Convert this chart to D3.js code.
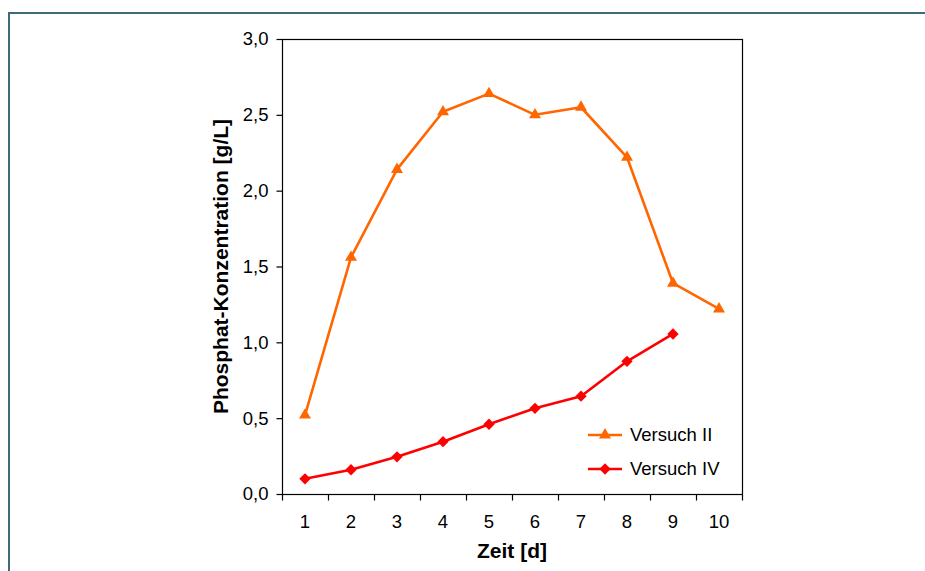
<!DOCTYPE html>
<html>
<head>
<meta charset="utf-8">
<script src="https://cdn.jsdelivr.net/npm/d3@7"></script>
<style>
  html, body { margin: 0; padding: 0; background: #fff; }
  svg { display: block; }
  text { font-family: "Liberation Sans", Arial, sans-serif; fill: #000; }
</style>
</head>
<body>
<svg id="chart" width="925" height="571"></svg>
<script>
// Days on the category axis
const days = ["1", "2", "3", "4", "5", "6", "7", "8", "9", "10"];
// Phosphate concentration in g/L per day
const versuchII = [0.52, 1.56, 2.14, 2.52, 2.64, 2.50, 2.55, 2.22, 1.39, 1.22];
const versuchIV = [0.10, 0.16, 0.245, 0.345, 0.46, 0.565, 0.645, 0.875, 1.055];
const yTicks = [0, 0.5, 1.0, 1.5, 2.0, 2.5, 3.0];
const seriesNames = ["Versuch II", "Versuch IV"];

const svg = d3.select("#chart");

// outer frame
svg.append("path")
  .attr("d", "M9,580 L9,13 L935,13")
  .attr("fill", "none")
  .attr("stroke", "#3e6a7e")
  .attr("stroke-width", 2);

const plot = { left: 282, right: 742, top: 39, bottom: 494 };

const x = d3.scaleBand().domain(days).range([plot.left, plot.right]).padding(0);
const xEdge = d3.scaleLinear().domain([0, days.length]).range([plot.left, plot.right]);
const y = d3.scaleLinear().domain([0, 3]).range([plot.bottom, plot.top]);

const g = svg.append("g");

// plot area border
g.append("rect")
  .attr("x", plot.left + 0.5).attr("y", plot.top + 0.5)
  .attr("width", plot.right - plot.left).attr("height", plot.bottom - plot.top)
  .attr("fill", "none").attr("stroke", "#000").attr("stroke-width", 1.2);

// y axis
const yAxis = g.append("g")
  .attr("transform", `translate(${plot.left + 0.5},0)`)
  .call(d3.axisLeft(y).tickValues(yTicks).tickSize(6).tickPadding(8)
    .tickFormat(d => d3.format(".1f")(d).replace(".", ",")));
yAxis.select(".domain").remove();
yAxis.selectAll("line").attr("stroke", "#000").attr("stroke-width", 1.2);
yAxis.selectAll("text").attr("font-size", 18.5).attr("font-family", null);

// x axis: tick marks between categories
const xTickAxis = g.append("g")
  .attr("transform", `translate(0,${plot.bottom + 0.5})`)
  .call(d3.axisBottom(xEdge).tickValues(d3.range(0, days.length + 1)).tickSize(6).tickFormat(""));
xTickAxis.select(".domain").remove();
xTickAxis.selectAll("line").attr("stroke", "#000").attr("stroke-width", 1.2);

// x axis: category labels
const xLabelAxis = g.append("g")
  .attr("transform", `translate(0,${plot.bottom})`)
  .call(d3.axisBottom(x).tickSize(0).tickPadding(21));
xLabelAxis.select(".domain").remove();
xLabelAxis.selectAll("text").attr("font-size", 18.5).attr("font-family", null);

// axis titles
svg.append("text")
  .attr("x", (plot.left + plot.right) / 2)
  .attr("y", 558)
  .attr("text-anchor", "middle")
  .attr("font-size", 21).attr("font-weight", "bold")
  .text("Zeit [d]");

svg.append("text")
  .attr("transform", `translate(228,${(plot.top + plot.bottom) / 2}) rotate(-90)`)
  .attr("text-anchor", "middle")
  .attr("font-size", 21).attr("font-weight", "bold")
  .text("Phosphat-Konzentration [g/L]");

const colors = ["#ff6600", "#ff0000"];
const triangle = d3.symbol().type(d3.symbolTriangle).size(62);
const diamond = d3.symbol().type(d3.symbolSquare).size(64);

const line = d3.line()
  .x((d, i) => x(days[i]) + x.bandwidth() / 2)
  .y(d => y(d));

// Versuch II
g.append("path").datum(versuchII)
  .attr("d", line).attr("fill", "none")
  .attr("stroke", colors[0]).attr("stroke-width", 2.6).attr("stroke-linejoin", "round");
g.selectAll(".m2").data(versuchII).join("path")
  .attr("class", "m2")
  .attr("d", triangle)
  .attr("transform", (d, i) => `translate(${x(days[i]) + x.bandwidth() / 2},${y(d)})`)
  .attr("fill", colors[0]);

// Versuch IV
g.append("path").datum(versuchIV)
  .attr("d", line).attr("fill", "none")
  .attr("stroke", colors[1]).attr("stroke-width", 2.6).attr("stroke-linejoin", "round");
g.selectAll(".m4").data(versuchIV).join("path")
  .attr("class", "m4")
  .attr("d", diamond)
  .attr("transform", (d, i) => `translate(${x(days[i]) + x.bandwidth() / 2},${y(d)}) rotate(45)`)
  .attr("fill", colors[1]);

// legend
const legendRows = [
  { name: seriesNames[0], color: colors[0], sym: triangle, rot: 0, y: 435 },
  { name: seriesNames[1], color: colors[1], sym: diamond, rot: 45, y: 469 }
];
const lg = svg.append("g");
legendRows.forEach(r => {
  lg.append("line")
    .attr("x1", 588).attr("x2", 622).attr("y1", r.y).attr("y2", r.y)
    .attr("stroke", r.color).attr("stroke-width", 2.6);
  lg.append("path")
    .attr("d", r.sym)
    .attr("transform", `translate(605,${r.y}) rotate(${r.rot})`)
    .attr("fill", r.color);
  lg.append("text")
    .attr("x", 630).attr("y", r.y).attr("dy", "0.35em")
    .attr("font-size", 18.5)
    .text(r.name);
});
</script>
</body>
</html>
